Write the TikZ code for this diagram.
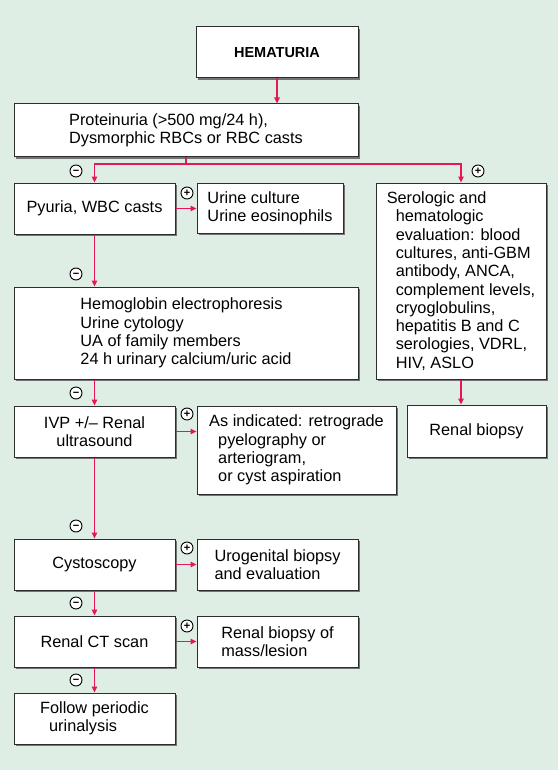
\documentclass[tikz,border=0pt]{standalone}
\usepackage{fontspec}
\setmainfont{Liberation Sans}
\usetikzlibrary{arrows.meta,shadows}
\definecolor{bgcol}{RGB}{222,238,228}
\definecolor{arrowred}{RGB}{229,23,90}
\definecolor{boxline}{RGB}{45,45,45}
\newcommand{\ind}{\hspace*{9pt}}

\begin{document}
\begin{tikzpicture}[x=1pt,y=-1pt]%pixel units, y downwards
			\tikzstyle{box}=[rectangle,draw=boxline,line width=1pt,fill=white,align=left,inner sep=0pt,font=\fontsize{16.3}{18.3}\selectfont,drop shadow={shadow xshift=2pt,shadow yshift=-2pt,fill=black!55,opacity=1}]
			\tikzstyle{sign}=[circle,draw=black,line width=0.9pt,fill=white,minimum size=12pt,inner sep=0pt,font=\bfseries\fontsize{11}{11}\selectfont]
			\tikzstyle{link}=[draw=arrowred,line width=1.6pt,-{Triangle[length=6pt,width=5.5pt]}]
			\fill[bgcol] (0,0) rectangle (558,770);
			% boxes
			\node[box,align=center,minimum width=162pt,minimum height=51pt] (hem) at (277,52.5) {\bfseries\fontsize{14.5}{17}\selectfont HEMATURIA};
			\node[box,minimum width=344pt,minimum height=53pt] (prot) at (186,130.5) {Proteinuria (>500 mg/24 h),\\Dysmorphic RBCs or RBC casts};
			\node[box,align=center,minimum width=161pt,minimum height=51pt] (pyu) at (94.5,208.5) {Pyuria, WBC casts};
			\node[box,minimum width=146pt,minimum height=50pt] (cult) at (270,208) {Urine culture\\Urine eosinophils};
			\node[box,minimum width=170pt,minimum height=196pt] (sero) at (461,281) {Serologic and\\\ind hematologic\\\ind evaluation: blood\\\ind cultures, anti-GBM\\\ind antibody, ANCA,\\\ind complement levels,\\\ind cryoglobulins,\\\ind hepatitis B and C\\\ind serologies, VDRL,\\\ind HIV, ASLO};
			\node[box,minimum width=344pt,minimum height=92pt] (hemo) at (186,333) {Hemoglobin electrophoresis\\Urine cytology\\UA of family members\\24 h urinary calcium/uric acid};
			\node[box,align=center,minimum width=161pt,minimum height=51pt] (ivp) at (94.5,431.5) {IVP +/– Renal\\ultrasound};
			\node[box,minimum width=199pt,minimum height=88pt] (asind) at (296.5,450) {As indicated: retrograde\\\ind pyelography or\\\ind arteriogram,\\\ind or cyst aspiration};
			\node[box,align=center,minimum width=139pt,minimum height=52pt] (rbx) at (476.5,431) {Renal biopsy};
			\node[box,align=center,minimum width=161pt,minimum height=51pt] (cys) at (94.5,564.5) {Cystoscopy};
			\node[box,minimum width=161pt,minimum height=51pt] (uro) at (277.5,564.5) {Urogenital biopsy\\and evaluation};
			\node[box,align=center,minimum width=161pt,minimum height=51pt] (ct) at (94.5,641.5) {Renal CT scan};
			\node[box,minimum width=161pt,minimum height=51pt] (mass) at (277.5,641.5) {Renal biopsy of\\mass/lesion};
			\node[box,minimum width=161pt,minimum height=51pt] (fol) at (94.5,718.5) {Follow periodic\\\ind urinalysis};
			% connectors
			\coordinate (sp) at (186,164);
			\draw[link] (hem.south) -- (hem.south |- prot.north);
			\draw[draw=arrowred,line width=1.6pt] (prot.south) -- (sp);
			\draw[link] (sp) -| (pyu.north);
			\draw[link] (sp) -| (sero.north);
			\draw[link] (sero.south) -- (sero.south |- rbx.north);
			\draw[link] (pyu.south) -- (pyu.south |- hemo.north);
			\draw[link] (hemo.south -| ivp.north) -- (ivp.north);
			\draw[link] (ivp.south) -- (cys.north);
			\draw[link] (cys.south) -- (ct.north);
			\draw[link] (ct.south) -- (fol.north);
			\draw[link] (pyu.east) -- (pyu.east -| cult.west);
			\draw[link] (ivp.east) -- (ivp.east -| asind.west);
			\draw[link] (cys.east) -- (uro.west);
			\draw[link] (ct.east) -- (mass.west);
			% signs
			\foreach \y [count=\i] in {171,274,393,526,603,680}
			{
				\node[sign] (m\i) at (76,\y) {\vphantom{+}−};
			}
			\foreach \y [count=\i] in {193,414,548,626}
			{
				\node[sign] (p\i) at (187,\y) {+};
			}
			\node[sign] (p0) at (478,171) {+};
\end{tikzpicture}
\end{document}
